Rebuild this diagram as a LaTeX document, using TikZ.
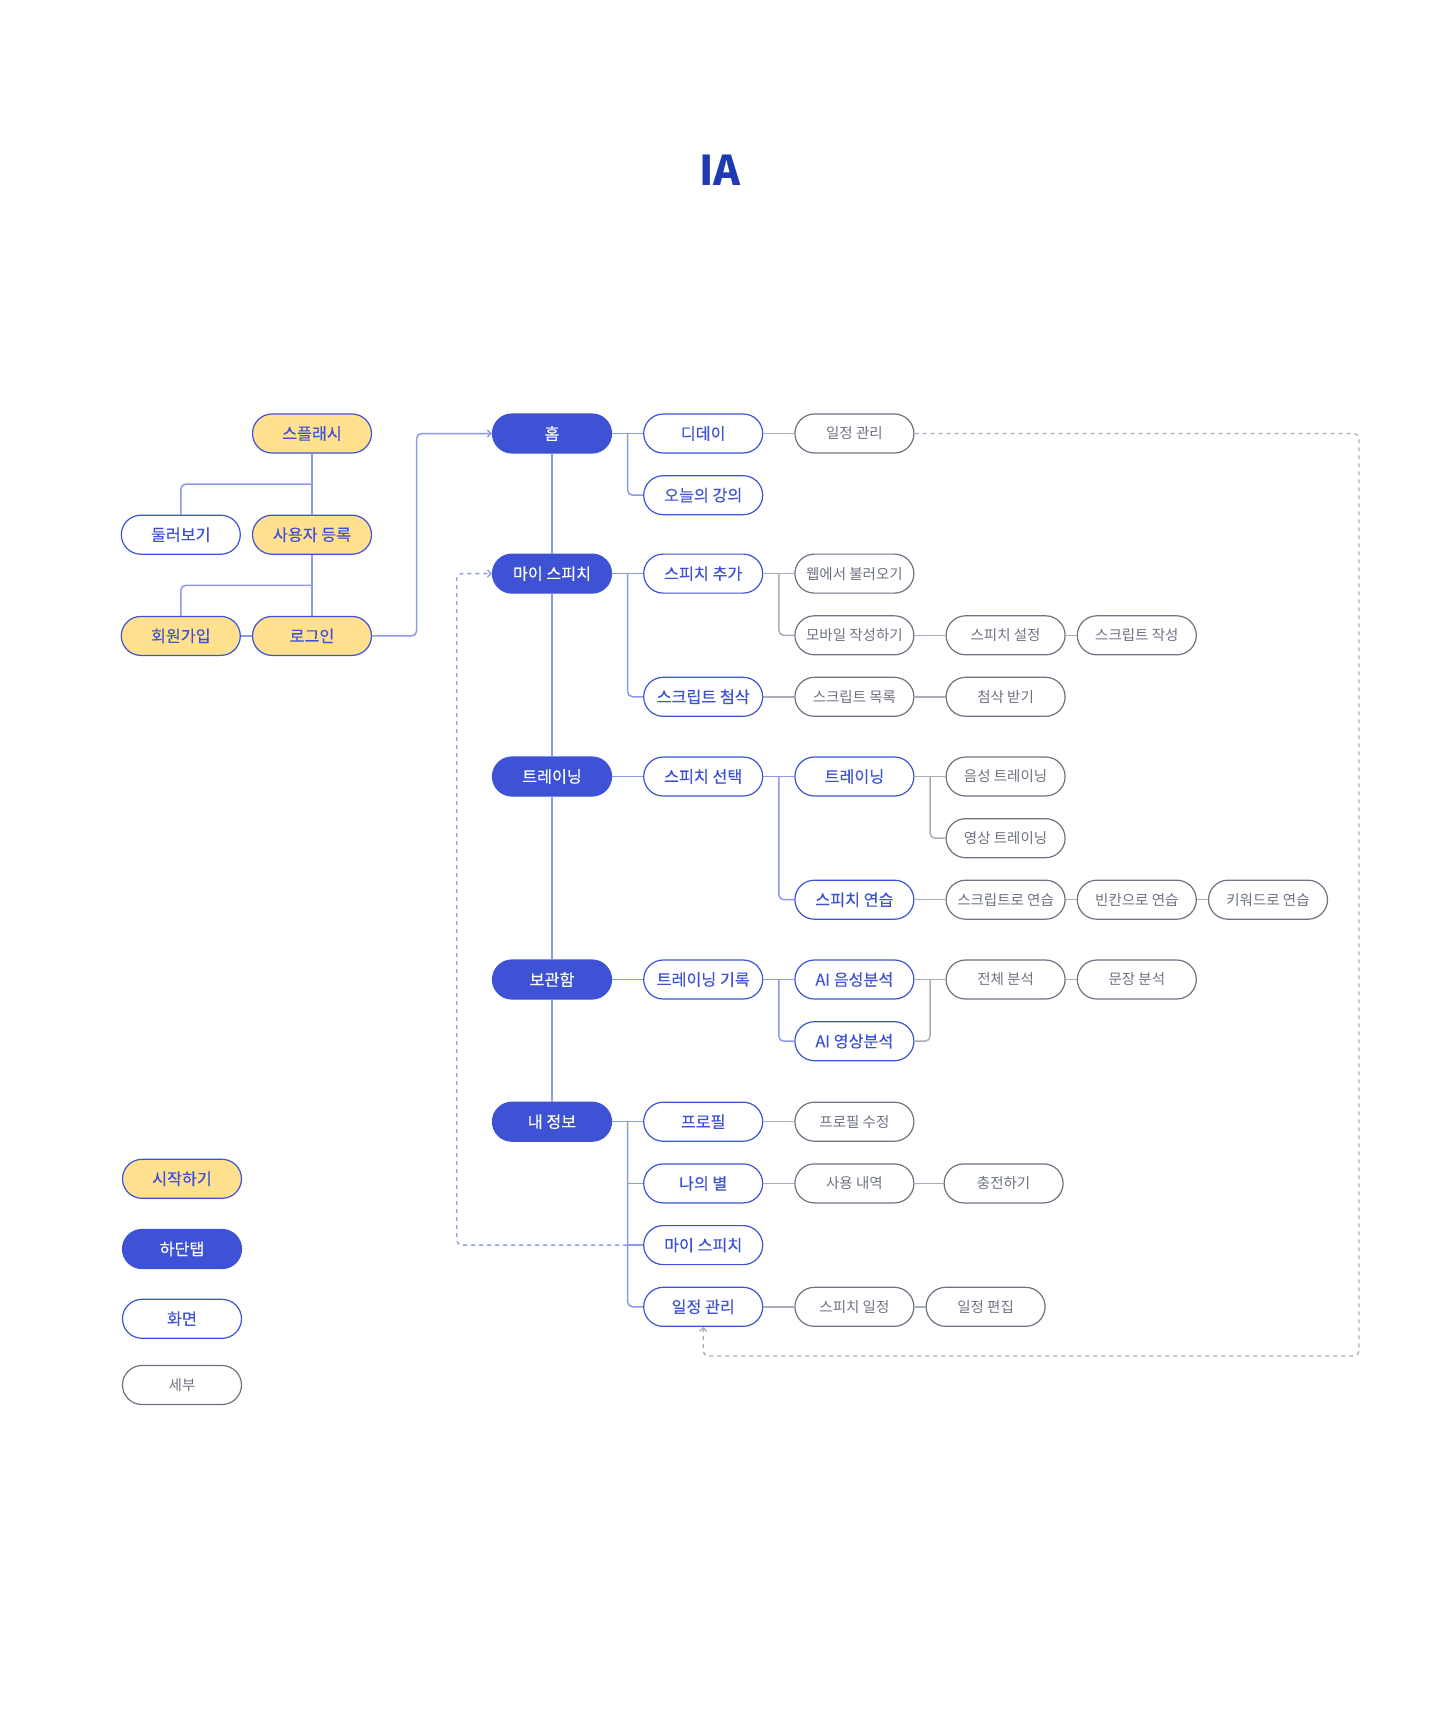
\documentclass[tikz,border=0pt]{standalone}
\usepackage{fontspec}
\setmainfont{Noto Sans CJK KR}
\newfontfamily\medfont{Noto Sans CJK KR}[FakeBold=0.2]
\usepackage{xcolor}
\usepackage{tikz}
\usetikzlibrary{arrows.meta, positioning, calc}

\definecolor{tabblue}{HTML}{3D52D5}
\definecolor{startyellow}{HTML}{FFE08F}
\definecolor{detailgray}{HTML}{6E7382}
\definecolor{linkblue}{HTML}{8C9AE8}
\definecolor{linkgray}{HTML}{A9ADB8}
\definecolor{titleblue}{HTML}{1E3AB2}

\begin{document}
\begin{tikzpicture}[
        x=1pt, y=-1pt,
        node distance=21.5pt and 31pt,
        pill/.style={rectangle, rounded corners=19.5pt, minimum width=119pt, minimum height=39pt, inner sep=0pt, text centered, line width=1.2pt},
        startbox/.style={pill, draw=tabblue, fill=startyellow, text=tabblue, font=\medfont\fontsize{16.2}{19}\selectfont},
        tabbox/.style={pill, draw=tabblue, fill=tabblue, text=white, font=\medfont\fontsize{16.2}{19}\selectfont},
        screen/.style={pill, draw=tabblue, fill=white, text=tabblue, font=\medfont\fontsize{16.2}{19}\selectfont},
        detail/.style={pill, draw=detailgray, fill=white, text=detailgray, font=\fontsize{14.5}{17}\selectfont},
        link/.style={draw=linkblue, line width=1.5pt},
        glink/.style={draw=linkgray, line width=1.5pt},
        bluedash/.style={draw=linkblue, line width=1.3pt, dash pattern=on 4pt off 4pt},
        graydash/.style={draw=linkgray, line width=1.3pt, dash pattern=on 4pt off 4pt},
        elbow/.style={rounded corners=5pt},
        arrow/.style={-{Straight Barb[length=3.5pt, width=7pt]}}
    ]
        \useasboundingbox (0,0) rectangle (1440,1729);

        % Title
        \node[font=\fontsize{41}{47}\selectfont\bfseries, text=titleblue] (title) at (720,170) {IA};

        % Nodes
        \node[startbox] (splash) at (312,433.5) {스플래시};
        \node[startbox, below=61pt of splash] (register) {사용자 등록};
        \node[screen, left=11pt of register] (browse) {둘러보기};
        \node[startbox, below=61pt of register] (login) {로그인};
        \node[startbox, left=11pt of login] (join) {회원가입};

        \node[tabbox] (home) at (552,433.5) {홈};
        \node[tabbox] (myspeech) at (552,573.6) {마이 스피치};
        \node[tabbox] (training) at (552,776.5) {트레이닝};
        \node[tabbox] (archive) at (552,979.5) {보관함};
        \node[tabbox] (myinfo) at (552,1121.7) {내 정보};

        \node[screen, right=of home] (dday) {디데이};
        \node[detail, right=of dday] (plan) {일정 관리};
        \node[screen, below=of dday] (lecture) {오늘의 강의};

        \node[screen, right=of myspeech] (addspeech) {스피치 추가};
        \node[detail, right=of addspeech] (webload) {웹에서 불러오기};
        \node[detail, below=of webload] (mobile) {모바일 작성하기};
        \node[detail, right=of mobile] (setting) {스피치 설정};
        \node[detail, right=11pt of setting] (writing) {스크립트 작성};
        \node[screen, below=83pt of addspeech] (review) {스크립트 첨삭};
        \node[detail, right=of review] (scriptlist) {스크립트 목록};
        \node[detail, right=of scriptlist] (getreview) {첨삭 받기};

        \node[screen, right=of training] (pick) {스피치 선택};
        \node[screen, right=of pick] (train) {트레이닝};
        \node[detail, right=of train] (voicetrain) {음성 트레이닝};
        \node[detail, below=of voicetrain] (videotrain) {영상 트레이닝};
        \node[screen, below=83pt of train] (practice) {스피치 연습};
        \node[detail, right=of practice] (byscript) {스크립트로 연습};
        \node[detail, right=11pt of byscript] (byblank) {빈칸으로 연습};
        \node[detail, right=11pt of byblank] (bykeyword) {키워드로 연습};

        \node[screen, right=of archive] (record) {트레이닝 기록};
        \node[screen, right=of record] (voiceai) {AI 음성분석};
        \node[screen, below=of voiceai] (videoai) {AI 영상분석};
        \node[detail, right=of voiceai] (fullana) {전체 분석};
        \node[detail, right=11pt of fullana] (sentana) {문장 분석};

        \node[screen, right=of myinfo] (profile) {프로필};
        \node[detail, right=of profile] (editprofile) {프로필 수정};
        \node[screen, below=of profile] (star) {나의 별};
        \node[detail, right=of star] (usage) {사용 내역};
        \node[detail, right=29pt of usage] (charge) {충전하기};
        \node[screen, below=of star] (myspeech2) {마이 스피치};
        \node[screen, below=of myspeech2] (plan2) {일정 관리};
        \node[detail, right=of plan2] (speechplan) {스피치 일정};
        \node[detail, right=11pt of speechplan] (editplan) {일정 편집};

        % Legend
        \node[startbox] (keystart) at (182,1178.8) {시작하기};
        \node[tabbox] (keytab) at (182,1249) {하단탭};
        \node[screen] (keyscreen) at (182,1318.8) {화면};
        \node[detail] (keydetail) at (182,1385) {세부};

        % Arrows
        \draw[link] (splash) -- (register);
        \draw[link] (register) -- (login);
        \draw[link] (join) -- (login);
        \draw[link, elbow] ($(splash.south)!.5!(register.north)$) -| (browse.north);
        \draw[link, elbow] ($(register.south)!.5!(login.north)$) -| (join.north);
        \draw[link, elbow, arrow] (login.east) -- ++(44.5,0) |- (home.west);

        \draw[link] (home) -- (myspeech) -- (training) -- (archive) -- (myinfo);

        \draw[link] (home) -- (dday);
        \draw[link, elbow] ($(home.east)!.5!(dday.west)$) |- (lecture.west);
        \draw[glink] (dday) -- (plan);

        \draw[link] (myspeech) -- (addspeech);
        \draw[link, elbow] ($(myspeech.east)!.5!(addspeech.west)$) |- (review.west);
        \draw[glink] (addspeech) -- (webload);
        \draw[glink, elbow] ($(addspeech.east)!.5!(webload.west)$) |- (mobile.west);
        \draw[glink] (mobile) -- (setting) -- (writing);
        \draw[glink] (review) -- (scriptlist) -- (getreview);

        \draw[link] (training) -- (pick) -- (train);
        \draw[link, elbow] ($(pick.east)!.5!(train.west)$) |- (practice.west);
        \draw[glink] (train) -- (voicetrain);
        \draw[glink, elbow] ($(train.east)!.5!(voicetrain.west)$) |- (videotrain.west);
        \draw[glink] (practice) -- (byscript) -- (byblank) -- (bykeyword);

        \draw[link] (archive) -- (record) -- (voiceai);
        \draw[link, elbow] ($(record.east)!.5!(voiceai.west)$) |- (videoai.west);
        \draw[glink] (voiceai) -- (fullana) -- (sentana);
        \draw[glink, elbow] (videoai.east) -| ($(voiceai.east)!.5!(fullana.west)$);

        \draw[link] (myinfo) -- (profile);
        \draw[link] ($(myinfo.east)!.5!(profile.west)$) |- (star.west);
        \draw[link] ($(myinfo.east)!.5!(profile.west)$) |- (myspeech2.west);
        \draw[link, elbow] ($(myinfo.east)!.5!(profile.west)$) |- (plan2.west);
        \draw[glink] (profile) -- (editprofile);
        \draw[glink] (star) -- (usage) -- (charge);
        \draw[glink] (plan2) -- (speechplan) -- (editplan);

        % Back links
        \coordinate (backL) at (456.7,0);
        \coordinate (backR) at (1359,1356);
        \draw[bluedash, elbow, arrow] (myspeech2.west) -- (myspeech2.west -| backL) |- (myspeech.west);
        \draw[graydash, elbow, arrow] (plan.east) -| (backR) -| (plan2.south);
    \end{tikzpicture}
\end{document}
